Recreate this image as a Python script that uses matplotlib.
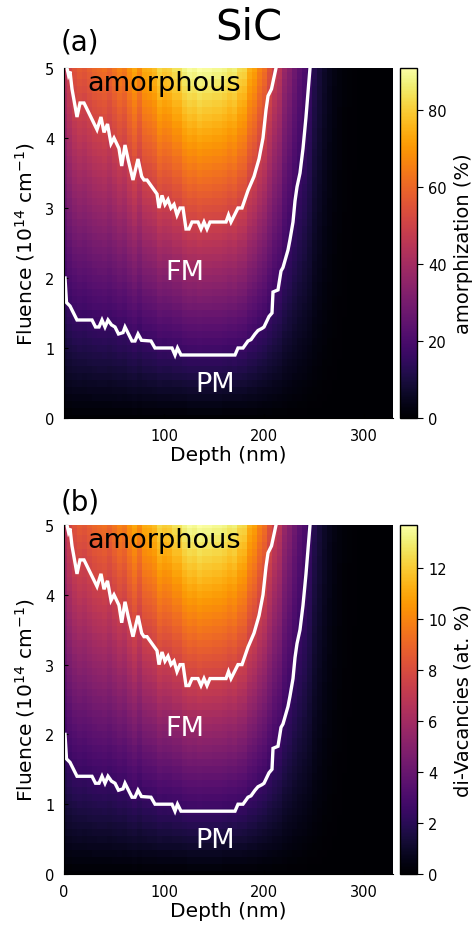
import numpy as np
import matplotlib
matplotlib.use("Agg")
import matplotlib.pyplot as plt

# depth grid (nm) and fluence grid (1e14 cm^-1)
depth = np.arange(0, 331, 5)
fluence = np.round(np.arange(0, 5.01, 0.1), 2)

# amorphization (%) at the highest fluence (5e14), read column by column
amorph_top = [45, 51, 55, 57, 56, 58, 60, 61, 62, 60,
              63, 66, 64, 69, 73, 68, 74, 75, 77, 82,
              80, 81, 84, 84, 88, 90, 89, 91, 90, 90,
              89, 89, 88, 86, 87, 83, 82, 75, 72, 66,
              62, 55, 49, 45, 37, 33, 28, 24, 21, 17,
              12, 9, 6.5, 4.5, 3, 2, 1.2, 0.8, 0.5, 0.3,
              0.2, 0.1, 0.05, 0, 0, 0, 0]
divac_max = 13.7   # top of di-vacancy colourbar (at. %)

# phase boundaries (depth nm, fluence)
amorph_line_d = [3, 4.5, 6, 8, 13, 16, 20, 33, 37, 40, 43.5, 47, 50, 55, 57.7, 61, 64, 69, 74,
                 77.7, 80, 83, 88, 93, 95, 98, 101, 104, 107, 110, 113, 116, 119, 122, 125,
                 128, 134, 137, 140, 143, 146, 162, 164.5, 167, 174, 178, 184, 190, 195, 199,
                 202, 204, 207.5, 212]
amorph_line_f = [5.0, 4.9, 4.95, 4.7, 4.3, 4.5, 4.5, 4.12, 4.3, 4.08, 4.2, 3.92, 4.0, 3.85, 3.6,
                 3.9, 3.7, 3.4, 3.7, 3.45, 3.4, 3.4, 3.3, 3.2, 3.0, 3.18, 3.05, 3.12, 3.0, 3.05,
                 2.9, 3.0, 3.0, 2.7, 2.7, 2.8, 2.8, 2.7, 2.8, 2.7, 2.8, 2.8, 2.9, 2.8, 3.0, 3.0,
                 3.25, 3.45, 3.7, 4.0, 4.4, 4.6, 4.7, 5.0]
pm_line_d = [1, 2.5, 6, 13, 28, 31.5, 35, 38, 41, 44, 47.5, 51, 54.5, 59, 61, 64.5, 68, 71, 74,
             77.5, 87, 91, 108, 111, 113.5, 117, 171, 174, 179, 184, 187, 191, 194, 198, 200,
             205, 208, 209, 214, 217, 219, 222, 224, 226, 229, 231, 233, 236, 239, 242, 246]
pm_line_f = [2.0, 1.65, 1.6, 1.4, 1.4, 1.3, 1.3, 1.4, 1.3, 1.4, 1.33, 1.3, 1.2, 1.22, 1.3, 1.2,
             1.1, 1.1, 1.2, 1.11, 1.1, 1.0, 1.0, 0.9, 1.0, 0.9, 0.9, 1.0, 1.0, 1.1, 1.12, 1.2,
             1.25, 1.28, 1.3, 1.45, 1.5, 1.8, 1.83, 2.1, 2.15, 2.3, 2.4, 2.55, 2.8, 3.1, 3.3,
             3.5, 3.85, 4.3, 5.0]

amorph = np.outer(fluence / 5.0, np.array(amorph_top, dtype=float))
divac = amorph / amorph.max() * divac_max

plt.rcParams["font.family"] = "DejaVu Sans"

fig = plt.figure(figsize=(4.77, 9.29), dpi=100)
W, H = 477, 929


def panel(ax, cax, Z, cbar_label, cticks, xticks, tag, tag_y):
    mesh = ax.pcolormesh(depth, fluence, Z, cmap="inferno", shading="nearest",
                         vmin=0, vmax=Z.max(), rasterized=True)
    ax.plot(amorph_line_d, amorph_line_f, color="white", lw=2.4, solid_joinstyle="miter")
    ax.plot(pm_line_d, pm_line_f, color="white", lw=2.4, solid_joinstyle="miter")
    ax.set_xlim(0, 329)
    ax.set_ylim(0, 5)
    ax.set_xticks(xticks)
    ax.set_yticks([0, 1, 2, 3, 4, 5])
    ax.tick_params(direction="in", length=3, labelsize=10.5, pad=7)
    for s in ["top", "right"]:
        ax.spines[s].set_visible(False)
    ax.set_xlabel("Depth (nm)", fontsize=14.5, labelpad=2)
    ax.set_ylabel(r"Fluence (10$^{14}$ cm$^{-1}$)", fontsize=14.5, labelpad=6)
    ax.text(100.4, 4.69, "amorphous", color="black", fontsize=19.5, ha="center", va="baseline")
    ax.text(120.7, 1.99, "FM", color="white", fontsize=19.5, ha="center", va="baseline")
    ax.text(150.7, 0.39, "PM", color="white", fontsize=19.5, ha="center", va="baseline")
    cb = fig.colorbar(mesh, cax=cax)
    cb.set_ticks(cticks)
    cb.ax.tick_params(direction="out", length=4, labelsize=10.5, pad=4)
    cb.set_label(cbar_label, fontsize=14, labelpad=5)
    cb.outline.set_linewidth(1.0)
    fig.text(61 / W, 1 - tag_y / H, tag, fontsize=20, ha="left", va="center")


ax1 = fig.add_axes([64 / W, 510 / H, 329 / W, 350 / H])
cax1 = fig.add_axes([400 / W, 510 / H, 17 / W, 350 / H])
ax2 = fig.add_axes([64 / W, 54 / H, 329 / W, 349 / H])
cax2 = fig.add_axes([400 / W, 54 / H, 17 / W, 349 / H])

panel(ax1, cax1, amorph, "amorphization (%)", [0, 20, 40, 60, 80], [100, 200, 300], "(a)", 43)
panel(ax2, cax2, divac, "di-Vacancies (at. %)", [0, 2, 4, 6, 8, 10, 12], [0, 100, 200, 300], "(b)", 502)

fig.text(249 / W, 1 - 28 / H, "SiC", fontsize=30, ha="center", va="center")

fig.savefig("out.png", dpi=100)
